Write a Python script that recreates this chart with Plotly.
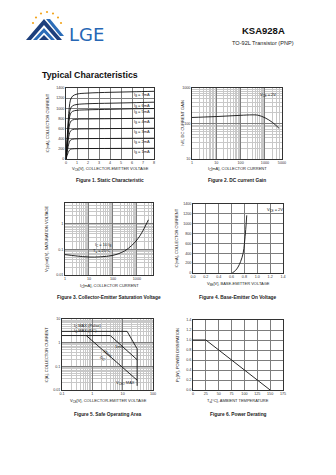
import plotly.graph_objects as go

W, H = 336, 475

# ---------------- data ----------------
# Fig 1: static characteristic (IC in mA vs VCE in V)
vce_static = [0, 0.1, 0.2, 0.3, 0.4, 0.6, 1.0, 2, 4, 6, 8]
ic_ib7 = [0, 380, 760, 1020, 1160, 1240, 1280, 1300, 1315, 1325, 1335]
ic_ib6 = [0, 330, 650, 870, 990, 1050, 1075, 1090, 1100, 1110, 1120]
ic_ib5 = [0, 300, 590, 790, 890, 940, 960, 970, 980, 990, 995]
ic_ib4 = [0, 250, 480, 650, 730, 770, 785, 790, 795, 800, 805]
ic_ib3 = [0, 190, 370, 490, 550, 580, 590, 595, 600, 603, 607]
ic_ib2 = [0, 130, 250, 330, 370, 390, 398, 402, 405, 408, 410]
ic_ib1 = [0, 70, 130, 170, 190, 200, 204, 206, 208, 210, 212]
ib_labels = ["7mA", "6mA", "5mA", "4mA", "3mA", "2mA", "1mA"]

# Fig 2: DC current gain
ic_gain = [1, 3, 10, 30, 100, 300, 500, 1000, 2000, 3800]
hfe = [148, 152, 157, 163, 170, 175, 172, 145, 108, 73]

# Fig 3: collector-emitter saturation voltage
ic_sat = [1, 3, 10, 30, 100, 300, 600, 1000, 1500, 2000, 3000]
vce_sat = [0.062, 0.055, 0.05, 0.051, 0.058, 0.085, 0.14, 0.23, 0.4, 0.65, 1.4]

# Fig 4: base-emitter on voltage
vbe_on = [0.61, 0.66, 0.70, 0.74, 0.78, 0.80, 0.82, 0.836]
ic_on = [0, 50, 120, 230, 400, 600, 880, 1170]

# Fig 5: safe operating area
soa_pulse_v = [0.1, 14, 30]
soa_pulse_i = [3, 3, 0.55]
soa_dc_v = [0.1, 3.9, 30]
soa_dc_i = [2, 2, 0.19]
soa_pc_v = [0.63, 30]
soa_pc_i = [2, 0.026]
soa_vceo_v = [30, 30]
soa_vceo_i = [0.55, 0.015]

# Fig 6: power derating
ta = [0, 25, 150]
pc = [1.0, 1.0, 0.0]

FONT = "Arial, Liberation Sans, sans-serif"
GRID = "#7d7d7d"
MINOR = "#c8c8c8"
LINE = "#111111"
TICK = 3.7
SMALL = 4.0


def px(x, y):
    return x / W, 1 - y / H


fig = go.Figure()
layout = dict(
    width=W, height=H, margin=dict(l=0, r=0, t=0, b=0),
    paper_bgcolor="white", plot_bgcolor="white", showlegend=False,
    font=dict(family=FONT, color="#222"),
)
annotations = []
shapes = []


def add_axes(n, box, xcfg, ycfg):
    x0, y0, x1, y1 = box
    sx = "" if n == 1 else str(n)
    base = dict(showline=True, mirror=True, linecolor="#333", linewidth=0.8,
                ticks="", tickfont=dict(size=TICK, family=FONT, color="#333"),
                showgrid=True, gridcolor=GRID, gridwidth=0.6, zeroline=False,
                automargin=False)
    xa = dict(base, domain=[x0 / W, x1 / W], anchor="y" + sx)
    xa.update(xcfg)
    ya = dict(base, domain=[1 - y1 / H, 1 - y0 / H], anchor="x" + sx)
    ya.update(ycfg)
    layout["xaxis" + sx] = xa
    layout["yaxis" + sx] = ya
    return "x" + sx, "y" + sx


def text(x, y, s, size=SMALL, bold=False, angle=0, anchor="center", color="#222",
         family=FONT):
    ax_, ay_ = px(x, y)
    annotations.append(dict(
        x=ax_, y=ay_, xref="paper", yref="paper", text=f"<b>{s}</b>" if bold else s,
        showarrow=False, textangle=angle, xanchor=anchor, yanchor="middle",
        font=dict(size=size, family=family, color=color)))


def line(xa, ya, xs, ys, width=0.9, shape="linear"):
    fig.add_trace(go.Scatter(x=xs, y=ys, xaxis=xa, yaxis=ya, mode="lines",
                             line=dict(color=LINE, width=width, shape=shape),
                             hoverinfo="skip"))


log_minor = dict(dtick="D1", showgrid=True, gridcolor=MINOR, gridwidth=0.4, ticks="")

# ---------------- Fig 1 ----------------
xa, ya = add_axes(1, (66, 88, 154, 159),
                  dict(range=[0, 8], dtick=1),
                  dict(range=[0, 1400], dtick=200))
curves = [ic_ib7, ic_ib6, ic_ib5, ic_ib4, ic_ib3, ic_ib2, ic_ib1]
for c in curves:
    line(xa, ya, vce_static, c, shape="spline")
for c, lab in zip(curves, ib_labels):
    annotations.append(dict(x=6.9, y=c[-1] - 75, xref=xa, yref=ya,
                            text=f"I<sub>B</sub> = {lab}", showarrow=False,
                            font=dict(size=SMALL, family=FONT, color="#222")))
text(47, 123.5, "I<sub>C</sub>[mA], COLLECTOR CURRENT", angle=-90)
text(110, 169, "V<sub>CE</sub>[V], COLLECTOR-EMITTER VOLTAGE")
text(110, 181, "Figure 1. Static Characteristic", size=4.8, bold=True)

# ---------------- Fig 2 ----------------
xa, ya = add_axes(2, (192, 88, 282, 159),
                  dict(type="log", range=[0, 3.7], tickvals=[1, 10, 100, 1000, 5000],
                       ticktext=["1", "10", "100", "1000", "5000"], minor=log_minor),
                  dict(type="log", range=[1, 3], tickvals=[10, 100, 1000],
                       ticktext=["10", "100", "1000"], minor=log_minor))
line(xa, ya, ic_gain, hfe, shape="spline")
text(268, 95, "V<sub>CE</sub> = 2V")
text(182, 123.5, "h<sub>FE</sub>, DC CURRENT GAIN", angle=-90)
text(237, 169, "I<sub>C</sub>[mA], COLLECTOR CURRENT")
text(237, 181, "Figure 2. DC current Gain", size=4.8, bold=True)

# ---------------- Fig 3 ----------------
xa, ya = add_axes(3, (65, 203, 153, 275),
                  dict(type="log", range=[0, 3.67], tickvals=[1, 10, 100, 1000],
                       ticktext=["1", "10", "100", "1000"], minor=log_minor),
                  dict(type="log", range=[-2, 0.8], tickvals=[0.01, 0.1, 1],
                       ticktext=["0.01", "0.1", "1"], minor=log_minor))
line(xa, ya, ic_sat, vce_sat, shape="spline")
text(103, 245, "I<sub>C</sub> = 10 I<sub>B</sub>")
text(102, 251, "T<sub>a</sub> = 25°C")
text(47, 239, "V<sub>CE</sub>(sat)[V], SATURATION VOLTAGE", angle=-90)
text(109, 286, "I<sub>C</sub>[mA], COLLECTOR CURRENT")
text(109, 297, "Figure 3. Collector-Emitter Saturation Voltage", size=4.8, bold=True)

# ---------------- Fig 4 ----------------
xa, ya = add_axes(4, (193, 204, 283, 273),
                  dict(range=[0, 1.4], dtick=0.2, tickformat=".1f"),
                  dict(range=[0, 1400], dtick=200))
line(xa, ya, vbe_on, ic_on, shape="spline")
text(275, 210, "V<sub>CE</sub> = 2V")
text(176, 238.5, "I<sub>C</sub>[mA], COLLECTOR CURRENT", angle=-90)
text(238, 284, "V<sub>BE</sub>[V], BASE-EMITTER VOLTAGE")
text(238, 297, "Figure 4. Base-Emitter On Voltage", size=4.8, bold=True)

# ---------------- Fig 5 ----------------
xa, ya = add_axes(5, (62, 319, 153, 390),
                  dict(type="log", range=[-1, 2], tickvals=[0.1, 1, 10, 100],
                       ticktext=["0.1", "1", "10", "100"], minor=log_minor),
                  dict(type="log", range=[-2, 1], tickvals=[0.01, 0.1, 1, 10],
                       ticktext=["0.01", "0.1", "1", "10"], minor=log_minor))
line(xa, ya, soa_pulse_v, soa_pulse_i)
line(xa, ya, soa_dc_v, soa_dc_i)
line(xa, ya, soa_pc_v, soa_pc_i)
line(xa, ya, soa_vceo_v, soa_vceo_i)
text(72, 325.7, "I<sub>C</sub> MAX (Pulse)", anchor="left")
text(72, 331, "I<sub>C</sub> MAX (DC)", anchor="left")
text(119, 346, "1ms")
text(108, 353, "10ms", angle=38)
text(103, 358, "DC", angle=38)
text(125, 383, "V<sub>CEO</sub> MAX")
text(46, 354.5, "I<sub>C</sub>[A], COLLECTOR CURRENT", angle=-90)
text(108, 401, "V<sub>CE</sub>[V], COLLECTOR-EMITTER VOLTAGE")
text(108, 414, "Figure 5. Safe Operating Area", size=4.8, bold=True)

# ---------------- Fig 6 ----------------
xa, ya = add_axes(6, (193, 320, 283, 390),
                  dict(range=[0, 175], dtick=25),
                  dict(range=[0, 1.4], dtick=0.2, tickformat=".1f"))
line(xa, ya, ta, pc)
text(178, 355, "P<sub>C</sub>[W], POWER DISSIPATION", angle=-90)
text(238, 401, "T<sub>a</sub>[°C], AMBIENT TEMPERATURE")
text(238, 414, "Figure 6. Power Derating", size=4.8, bold=True)

# ---------------- page header ----------------
text(263, 31, "KSA928A", size=9.5, bold=True, color="#111")
text(263, 43, "TO-92L Transistor (PNP)", size=5.6, color="#222")
text(40, 75, "Typical Characteristics", size=8.8, bold=True, anchor="left", color="#111")

# logo: stars arc
stars = [(33, 23), (36, 17.5), (41, 13.5), (47, 12), (53, 13.5), (58, 17.5), (61, 23)]
for sx_, sy_ in stars:
    r = 1.1
    shapes.append(dict(type="circle", xref="paper", yref="paper",
                       x0=(sx_ - r) / W, x1=(sx_ + r) / W,
                       y0=1 - (sy_ + r) / H, y1=1 - (sy_ - r) / H,
                       fillcolor="#f2a51f", line=dict(width=0)))


def path(pts, color):
    d = "M " + " L ".join(f"{x / W:.5f},{1 - y / H:.5f}" for x, y in pts) + " Z"
    shapes.append(dict(type="path", xref="paper", yref="paper", path=d,
                       fillcolor=color, line=dict(width=0)))


# mountain chevrons
path([(26, 40), (44, 19), (62, 40), (57, 40), (44, 25), (31, 40)], "#1d3f7c")
path([(33, 40), (44, 28), (55, 40), (51, 40), (44, 32.5), (37, 40)], "#2b6cb8")
path([(39, 40), (44, 35), (49, 40)], "#1d3f7c")
path([(46, 19), (50, 19), (64, 36), (60, 36)], "#2b6cb8")
text(86, 34, "LGE", size=18, color="#2767b5", family="DejaVu Sans, sans-serif")

layout["annotations"] = annotations
layout["shapes"] = shapes
fig.update_layout(**layout)
fig.write_html("out.html")
